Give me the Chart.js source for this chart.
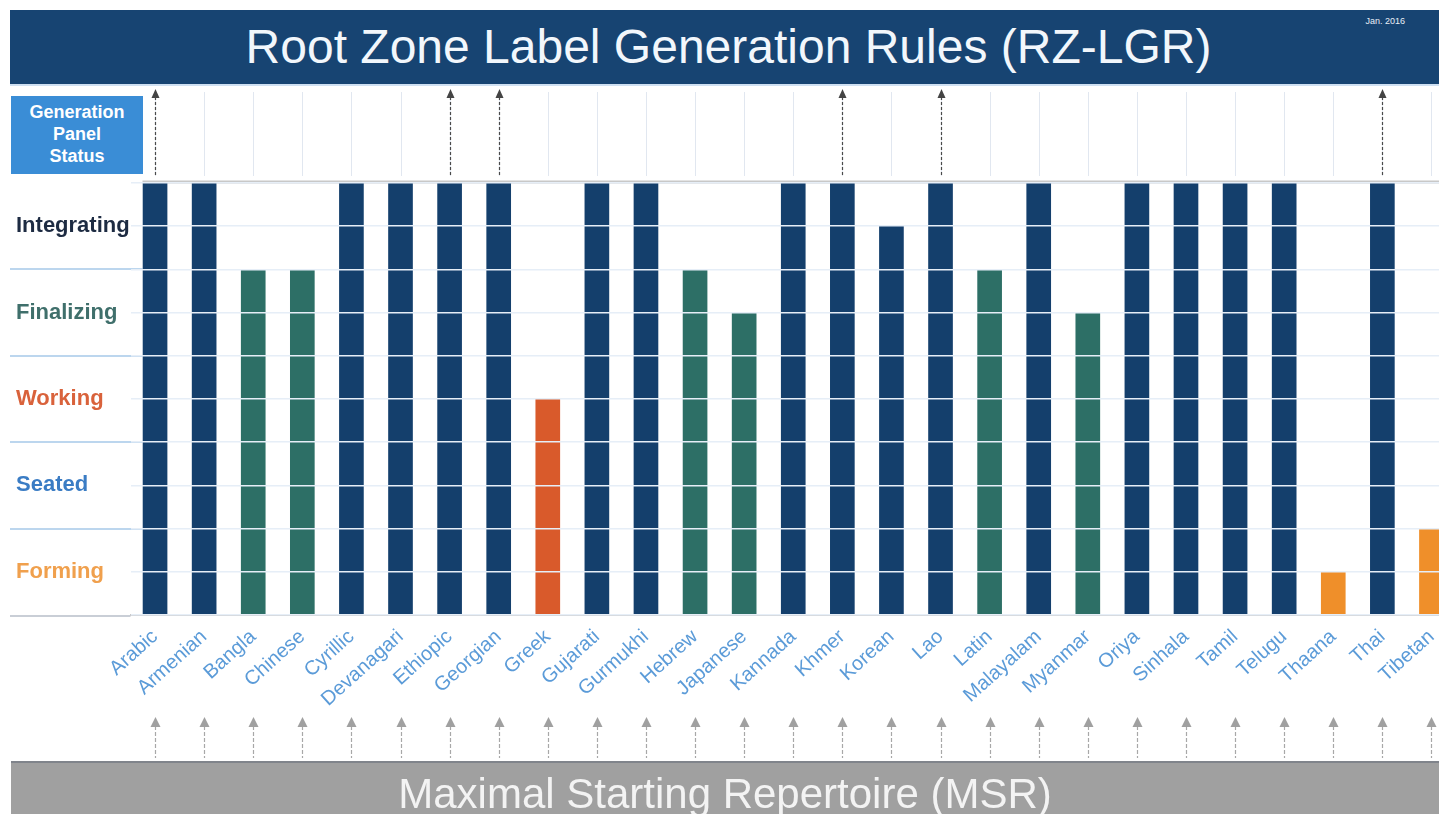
<!DOCTYPE html>
<html>
<head>
<meta charset="utf-8">
<script src="https://cdn.jsdelivr.net/npm/chart.js@4.4.0/dist/chart.umd.min.js"></script>
<style>
html, body { margin:0; padding:0; width:1439px; height:814px; overflow:hidden; background:#fff; font-family:"Liberation Sans", Arial, sans-serif; }
#chart { position:absolute; left:0; top:0; }
#titlebar { position:absolute; left:10px; top:10px; width:1429px; height:74px; background:#174472; border-bottom:2px solid #cfe0f2; }
#titlebar h1 { margin:0; font-weight:normal; font-size:48px; line-height:74px; color:#f2f7fc; text-align:center; padding-left:8px; }
#date { position:absolute; right:34px; top:6px; font-size:9px; color:#e8eef6; }
#panel { position:absolute; left:11px; top:96px; width:132px; height:78px; background:#3a8dd6; color:#fff; font-weight:bold; font-size:18px; line-height:22px; text-align:center; padding-top:5px; box-sizing:border-box; }
#msr { position:absolute; left:11px; top:761px; width:1428px; height:53px; background:#a0a0a0; border-top:2px solid #80848b; color:#f3f3f3; font-size:42px; line-height:62px; text-align:center; }
</style>
</head>
<body>
<canvas id="chart" width="1460" height="814"></canvas>
<div id="titlebar"><h1>Root Zone Label Generation Rules (RZ-LGR)</h1><div id="date">Jan. 2016</div></div>
<div id="panel">Generation<br>Panel<br>Status</div>
<div id="msr">Maximal Starting Repertoire (MSR)</div>
<script>
// scripts (categories)
var scripts = ['Arabic', 'Armenian', 'Bangla', 'Chinese', 'Cyrillic', 'Devanagari', 'Ethiopic',
    'Georgian', 'Greek', 'Gujarati', 'Gurmukhi', 'Hebrew', 'Japanese', 'Kannada', 'Khmer',
    'Korean', 'Lao', 'Latin', 'Malayalam', 'Myanmar', 'Oriya', 'Sinhala', 'Tamil', 'Telugu',
    'Thaana', 'Thai', 'Tibetan'];

// status level reached by each generation panel (0..5)
var levels = [5, 5, 4, 4, 5, 5, 5, 5, 2.5, 5, 5, 4, 3.5, 5, 5, 4.5, 5, 4, 5, 3.5, 5, 5, 5, 5, 0.5, 5, 1];

// panels with a submitted LGR (dark arrow up to the panel status row)
var submitted = [1, 0, 0, 0, 0, 0, 1, 1, 0, 0, 0, 0, 0, 0, 1, 0, 1, 0, 0, 0, 0, 0, 0, 0, 0, 1, 0];

// status names, bottom to top
var statuses = ['Forming', 'Seated', 'Working', 'Finalizing', 'Integrating'];
var statusText = ['#f0a04d', '#3a7cc4', '#d9623b', '#3f6f6b', '#1d2b42'];
var statusBar = ['#ef8f2a', '#3a7cc4', '#d95a2b', '#2d6f66', '#143f6c'];

function bandOf(v) {
    return Math.max(1, Math.ceil(v)) - 1;
}

var deco = {
    id: 'deco',
    beforeDatasetsDraw: function(chart) {
        var ctx = chart.ctx, x = chart.scales.x, y = chart.scales.y, ca = chart.chartArea;
        ctx.save();
        // separators of the status column
        ctx.strokeStyle = '#bcd6ee';
        ctx.lineWidth = 2;
        for (var v = 1; v <= 4; v++) {
            var py = Math.round(y.getPixelForValue(v));
            ctx.beginPath(); ctx.moveTo(10, py); ctx.lineTo(ca.left + 12, py); ctx.stroke();
        }
        ctx.strokeStyle = '#c9ced6';
        ctx.beginPath(); ctx.moveTo(10, ca.bottom + 1); ctx.lineTo(ca.left, ca.bottom + 1); ctx.stroke();
        // top line of plot
        ctx.strokeStyle = '#c8c8c8';
        ctx.lineWidth = 3;
        ctx.beginPath(); ctx.moveTo(ca.left + 12, ca.top - 1); ctx.lineTo(ca.right + 10, ca.top - 1); ctx.stroke();

        for (var i = 0; i < scripts.length; i++) {
            var px = Math.round(x.getPixelForValue(i)) + 0.5;
            // faint panel row lines
            ctx.setLineDash([]);
            ctx.lineWidth = 1;
            ctx.strokeStyle = 'rgba(200,212,228,0.55)';
            ctx.beginPath(); ctx.moveTo(px, 92); ctx.lineTo(px, 176); ctx.stroke();
            if (submitted[i]) {
                ctx.strokeStyle = '#4a4a4a';
                ctx.lineWidth = 1.2;
                ctx.setLineDash([3, 2]);
                ctx.beginPath(); ctx.moveTo(px, 97); ctx.lineTo(px, 176); ctx.stroke();
                ctx.setLineDash([]);
                ctx.fillStyle = '#444';
                ctx.beginPath(); ctx.moveTo(px, 89); ctx.lineTo(px - 4, 98); ctx.lineTo(px + 4, 98); ctx.closePath(); ctx.fill();
            }
            // MSR arrows
            ctx.strokeStyle = '#a8a8a8';
            ctx.lineWidth = 1.2;
            ctx.setLineDash([4, 2]);
            ctx.beginPath(); ctx.moveTo(px, 726); ctx.lineTo(px, 758); ctx.stroke();
            ctx.setLineDash([]);
            ctx.fillStyle = '#a0a0a0';
            ctx.beginPath(); ctx.moveTo(px, 717); ctx.lineTo(px - 5, 727); ctx.lineTo(px + 5, 727); ctx.closePath(); ctx.fill();
        }
        ctx.restore();
    }
};

var ctx = document.getElementById('chart').getContext('2d');
var chart = new Chart(ctx, {
    type: 'bar',
    data: {
        labels: scripts,
        datasets: [{
            data: levels,
            backgroundColor: levels.map(function(v) { return statusBar[bandOf(v)]; }),
            barThickness: 24,
            borderWidth: 0
        }]
    },
    options: {
        responsive: false,
        animation: false,
        devicePixelRatio: 1,
        layout: { padding: { left: 16, right: 4, top: 183, bottom: 0 } },
        plugins: { legend: { display: false }, tooltip: { enabled: false } },
        scales: {
            x: {
                grid: { display: false },
                border: { display: true, color: '#c9c9c9', width: 2 },
                ticks: {
                    color: '#5b9bd8',
                    font: { family: 'Liberation Sans', size: 20 },
                    minRotation: 42,
                    maxRotation: 42,
                    autoSkip: false,
                    padding: 2
                },
                afterFit: function(s) { s.height = 199; }
            },
            y: {
                min: 0,
                max: 5,
                grid: { z: 1, color: '#e6eef7', lineWidth: 1.5, drawTicks: false },
                border: { display: false },
                ticks: {
                    stepSize: 0.5,
                    crossAlign: 'far',
                    font: { family: 'Liberation Sans', size: 22, weight: 'bold' },
                    color: function(c) { return statusText[Math.floor(c.tick.value)] || '#000'; },
                    callback: function(v) { return (v % 1 === 0.5) ? statuses[Math.floor(v)] : ''; }
                },
                afterFit: function(s) { s.width = 114.5; }
            }
        }
    },
    plugins: [deco]
});
</script>
</body>
</html>
